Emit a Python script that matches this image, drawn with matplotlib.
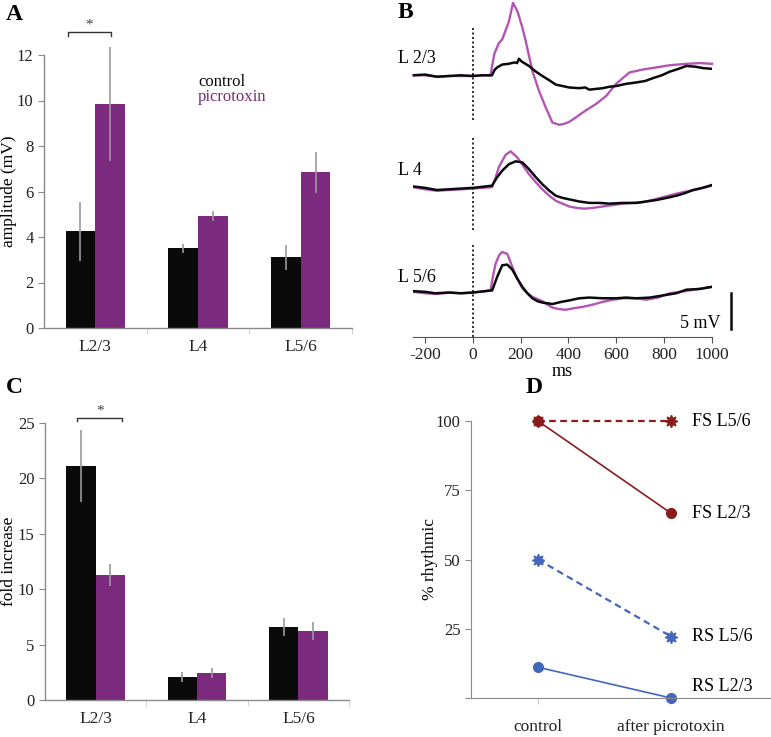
import numpy as np
import matplotlib.pyplot as plt

plt.rcParams['font.family'] = ['Liberation Serif', 'DejaVu Serif']
plt.rcParams['axes.unicode_minus'] = False

# ---- data ----
layers = ['L2/3', 'L4', 'L5/6']

# panel A: amplitude (mV)
amp_ctrl = [4.26, 3.50, 3.12]
amp_ctrl_err = [1.30, 0.20, 0.55]
amp_picro = [9.85, 4.92, 6.84]
amp_picro_err = [2.50, 0.21, 0.90]

# panel C: fold increase
fold_ctrl = [21.1, 2.05, 6.56]
fold_ctrl_err = [3.25, 0.45, 0.80]
fold_picro = [11.28, 2.40, 6.20]
fold_picro_err = [1.00, 0.45, 0.80]

# panel B: example traces (ms, mV with vertical offset)
t_l23_ctrl = [-250, -200, -150, -100, -50, 0, 40, 80, 92, 102, 123, 150, 175, 185, 193, 205, 215, 235, 260,
              291, 320, 347, 375, 403, 445, 470, 487, 515, 543, 571, 599, 640, 683, 720, 753, 790, 823, 860,
              893, 930, 963, 1000]
v_l23_ctrl = [36.5, 36.6, 36.3, 36.4, 36.5, 36.4, 36.5, 36.5, 37.3, 37.6, 38.0, 38.1, 38.3, 38.2, 38.8, 38.4,
              38.2, 37.8, 37.1, 36.4, 35.8, 35.2, 35.0, 34.8, 34.7, 34.8, 34.5, 34.6, 34.7, 34.9, 35.0, 35.3,
              35.5, 35.7, 36.1, 36.5, 37.0, 37.4, 37.8, 37.7, 37.5, 37.4]
t_l23_picro = [-250, -200, -150, -100, -50, 0, 40, 74, 90, 109, 123, 151, 168, 187, 205, 221, 249, 277, 305,
               333, 361, 380, 403, 430, 459, 487, 515, 557, 599, 627, 655, 711, 767, 823, 893, 950, 1000]
v_l23_picro = [36.5, 36.5, 36.3, 36.4, 36.4, 36.4, 36.5, 36.5, 39.5, 41.0, 41.5, 44.0, 46.6, 45.4, 43.4, 41.3,
               37.1, 34.3, 32.0, 29.9, 29.6, 29.7, 30.0, 30.6, 31.3, 31.9, 32.5, 33.6, 35.3, 36.1, 36.9, 37.3,
               37.6, 37.9, 38.1, 38.2, 38.1]
t_l4_ctrl = [-250, -200, -150, -100, -50, 0, 80, 100, 123, 151, 179, 207, 235, 263, 291, 320, 347, 375, 403,
             445, 487, 530, 571, 627, 683, 725, 767, 810, 851, 890, 921, 960, 1000]
v_l4_ctrl = [21.0, 20.8, 20.5, 20.6, 20.7, 20.8, 21.1, 22.2, 23.2, 24.1, 24.5, 24.35, 23.4, 22.3, 21.3, 20.4,
             19.7, 19.4, 19.2, 18.9, 18.7, 18.7, 18.6, 18.7, 18.7, 18.9, 19.1, 19.4, 19.7, 20.1, 20.5, 20.8,
             21.2]
t_l4_picro = [-250, -200, -150, -100, -50, 0, 81, 95, 109, 137, 158, 187, 210, 235, 263, 291, 320, 347, 375,
              403, 435, 466, 500, 543, 585, 627, 670, 711, 750, 795, 840, 879, 940, 1000]
v_l4_picro = [20.9, 20.6, 20.4, 20.5, 20.6, 20.7, 20.9, 22.2, 23.7, 25.4, 25.9, 25.0, 23.9, 22.7, 21.6, 20.6,
              19.7, 19.0, 18.6, 18.2, 18.0, 17.9, 18.0, 18.2, 18.4, 18.6, 18.7, 18.8, 19.1, 19.5, 19.9, 20.2,
              20.6, 21.1]
t_l56_ctrl = [-250, -200, -157, -100, -50, 0, 81, 92, 102, 123, 144, 165, 185, 207, 228, 249, 270, 291, 333,
              370, 403, 445, 487, 543, 599, 640, 683, 740, 795, 850, 893, 950, 1000]
v_l56_ctrl = [6.4, 6.3, 6.1, 6.2, 6.1, 6.2, 6.5, 7.5, 8.4, 10.0, 10.1, 9.4, 8.2, 7.0, 6.1, 5.4, 5.0, 4.8, 4.6,
              4.9, 5.1, 5.4, 5.5, 5.4, 5.4, 5.5, 5.4, 5.5, 5.8, 6.1, 6.6, 6.7, 7.0]
t_l56_picro = [-250, -200, -150, -100, -50, 0, 74, 85, 95, 110, 123, 144, 165, 185, 207, 228, 249, 270, 291,
               312, 333, 360, 389, 420, 459, 500, 543, 585, 627, 680, 725, 775, 823, 870, 907, 960, 1000]
v_l56_picro = [6.3, 6.1, 6.0, 6.2, 6.1, 6.2, 6.5, 8.6, 10.2, 11.4, 11.85, 11.6, 9.8, 8.2, 6.8, 6.1, 5.6, 5.3,
               5.0, 4.5, 4.1, 3.9, 3.8, 4.0, 4.2, 4.5, 4.9, 5.2, 5.4, 5.4, 5.2, 5.5, 6.1, 6.3, 6.5, 6.8, 7.0]

# panel D: % rhythmic
conditions = ['control', 'after picrotoxin']
fs_l56 = [100, 100]
fs_l23 = [100, 66.7]
rs_l56 = [50, 22.2]
rs_l23 = [11.1, 0]

black = '#0a0a0a'
purple = '#7b2a7e'
trace_purple = '#b455b4'
grey = '#8a8a8a'
dark_red = '#8b1c1c'
blue = '#4466bb'

W, H = 771, 737
fig = plt.figure(figsize=(W / 100, H / 100), dpi=100)


def px_axes(left, top, right, bottom):
    return fig.add_axes([left / W, 1 - bottom / H, (right - left) / W, (bottom - top) / H])


def style_bar_axes(ax):
    for s in ['top', 'right']:
        ax.spines[s].set_visible(False)
    for s in ['left', 'bottom']:
        ax.spines[s].set_color(grey)
        ax.spines[s].set_linewidth(1.0)
    ax.tick_params(axis='y', colors=grey, labelcolor='#222222', labelsize=12, length=4)
    ax.tick_params(axis='x', which='major', length=0, labelsize=12.5, labelcolor='#222222', pad=8)
    ax.tick_params(axis='x', which='minor', colors='#cccccc', length=4)
    ax.set_xlim(-0.5, 2.5)
    ax.set_xticks(range(3))
    ax.set_xticklabels(layers)
    ax.set_xticks([0.5, 1.5, 2.5], minor=True)


def bars(ax, ctrl, ctrl_err, picro, picro_err):
    x = np.arange(3)
    w = 0.29
    ax.bar(x - w / 2, ctrl, w, color=black, zorder=2)
    ax.bar(x + w / 2, picro, w, color=purple, zorder=2)
    ax.errorbar(x - w / 2, ctrl, yerr=ctrl_err, fmt='none', ecolor='#9a9a9a', elinewidth=1.2,
                capsize=0, zorder=3, clip_on=False)
    ax.errorbar(x + w / 2, picro, yerr=picro_err, fmt='none', ecolor='#9a9a9a', elinewidth=1.2,
                capsize=0, zorder=3, clip_on=False)


# ---- A ----
axA = px_axes(44, 55, 352, 328)
bars(axA, amp_ctrl, amp_ctrl_err, amp_picro, amp_picro_err)
style_bar_axes(axA)
axA.set_ylim(0, 12)
axA.set_yticks(range(0, 13, 2))
axA.set_ylabel('amplitude (mV)', fontsize=12.5)
axA.yaxis.set_label_coords(-0.088, 0.5)
axA.plot([-0.27, -0.27, 0.15, 0.15], [12.85, 13.0, 13.0, 12.85], color='#333333', lw=1, clip_on=False)
axA.text(-0.06, 13.05, '*', ha='center', va='bottom', fontsize=11, color='#444444')
axA.text(1.0, 10.8, 'control', color=black, fontsize=12, va='center')
axA.text(1.0, 10.15, 'picrotoxin', color=purple, fontsize=12, va='center')
fig.text(6 / W, 1 - 15 / H, 'A', fontsize=17, fontweight='bold', va='center')

# ---- C ----
axC = px_axes(45, 423, 349, 700)
bars(axC, fold_ctrl, fold_ctrl_err, fold_picro, fold_picro_err)
style_bar_axes(axC)
axC.set_ylim(0, 25)
axC.set_yticks(range(0, 26, 5))
axC.set_ylabel('fold increase', fontsize=12.5)
axC.yaxis.set_label_coords(-0.092, 0.5)
axC.plot([-0.18, -0.18, 0.26, 0.26], [25.15, 25.45, 25.45, 25.15], color='#333333', lw=1, clip_on=False)
axC.text(0.04, 25.5, '*', ha='center', va='bottom', fontsize=11, color='#444444')
fig.text(6 / W, 1 - 387 / H, 'C', fontsize=17, fontweight='bold', va='center')

# ---- B ----
axB = px_axes(413, 0, 712, 337)
axB.plot(t_l23_picro, v_l23_picro, color=trace_purple, lw=1.7, clip_on=False)
axB.plot(t_l23_ctrl, v_l23_ctrl, color=black, lw=1.8)
axB.plot(t_l4_picro, v_l4_picro, color=trace_purple, lw=1.7)
axB.plot(t_l4_ctrl, v_l4_ctrl, color=black, lw=1.8)
axB.plot(t_l56_picro, v_l56_picro, color=trace_purple, lw=1.7)
axB.plot(t_l56_ctrl, v_l56_ctrl, color=black, lw=1.8)
for y0, y1 in [(30.3, 43.3), (14.9, 28.1), (0, 13.1)]:
    axB.plot([0, 0], [y0, y1], color=black, lw=1.2, ls=(0, (1.2, 1.5)))
axB.set_xlim(-250, 1000)
axB.set_ylim(0, 47)
for s in ['top', 'right', 'left']:
    axB.spines[s].set_visible(False)
axB.spines['bottom'].set_color('#555555')
axB.set_yticks([])
axB.set_xticks(range(-200, 1001, 200))
axB.tick_params(axis='x', colors='#555555', labelcolor='#222222', labelsize=12.5, length=4)
axB.set_xlabel('ms', fontsize=13, labelpad=0)
axB.text(-311, 38.9, 'L 2/3', fontsize=13, va='center', ha='left')
axB.text(-311, 23.2, 'L 4', fontsize=13, va='center', ha='left')
axB.text(-311, 8.3, 'L 5/6', fontsize=13, va='center', ha='left')
axB.plot([1080, 1080], [1.1, 6.1], color=black, lw=1.8, clip_on=False)
axB.text(1034, 1.9, '5 mV', fontsize=13, ha='right', va='center')
fig.text(398 / W, 1 - 13 / H, 'B', fontsize=17, fontweight='bold', va='center')

# ---- D ----
axD = px_axes(471, 421, 770, 698)
x = [0, 1]
star = (8, 1, 0)
axD.plot(x, fs_l56, color=dark_red, lw=1.6, ls=(0, (3, 2)), marker=star, ms=9, clip_on=False)
axD.plot(x, fs_l23, color=dark_red, lw=1.2, marker='o', ms=7, clip_on=False)
axD.plot(x, rs_l56, color=blue, lw=1.6, ls=(0, (3, 2)), marker=star, ms=9, clip_on=False)
axD.plot(x, rs_l23, color=blue, lw=1.2, marker='o', ms=7, clip_on=False)
axD.set_xlim(-0.504, 1.744)
axD.set_ylim(0, 100)
for s in ['top', 'right']:
    axD.spines[s].set_visible(False)
for s in ['left', 'bottom']:
    axD.spines[s].set_color(grey)
axD.set_yticks([0, 25, 50, 75, 100])
axD.set_yticklabels(['', '25', '50', '75', '100'])
axD.set_xticks(x)
axD.set_xticklabels(conditions)
axD.tick_params(axis='y', colors=grey, labelcolor='#222222', labelsize=12, length=4)
axD.tick_params(axis='x', colors='#cccccc', labelcolor='#222222', labelsize=12.5, length=4, pad=11)
axD.set_ylabel('% rhythmic', fontsize=12.5)
axD.yaxis.set_label_coords(-0.112, 0.5)
for y, lab in [(100, 'FS L5/6'), (66.7, 'FS L2/3'), (22.2, 'RS L5/6'), (4.0, 'RS L2/3')]:
    axD.text(1.158, y, lab, fontsize=13, va='center', ha='left')
fig.text(526 / W, 1 - 387 / H, 'D', fontsize=17, fontweight='bold', va='center')

fig.savefig('out.png', dpi=100)
